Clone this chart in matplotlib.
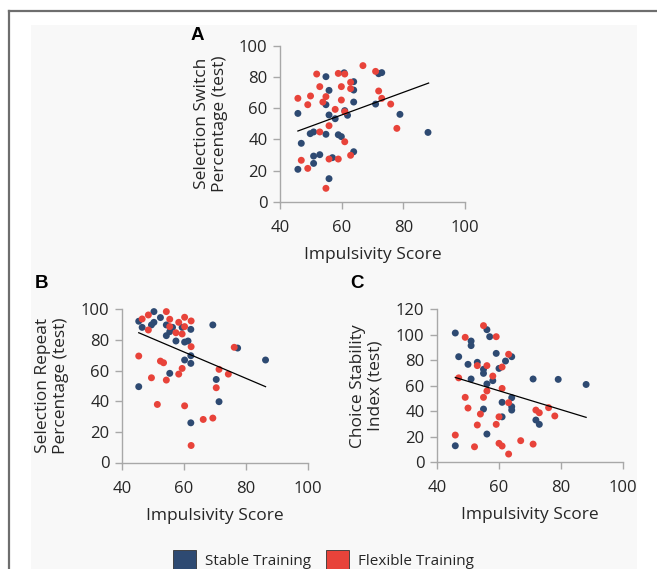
import matplotlib
matplotlib.use("Agg")
import matplotlib.pyplot as plt
from matplotlib.patches import Patch, Rectangle
from matplotlib.lines import Line2D

# ---------------- data ----------------
# Panel A: Selection Switch Percentage (test)
a_stable_x = [45.8, 46.9, 45.8, 49.8, 50.9, 50.9, 50.9, 52.9, 54.9, 54.9, 54.9, 55.9, 55.9, 55.9, 57.0,
              57.9, 58.9, 59.9, 60.8, 61.0, 61.9, 63.9, 63.9, 63.9, 63.9, 71.0, 72.0, 73.0, 78.9, 88.0]
a_stable_y = [56.7, 37.5, 20.8, 43.7, 44.8, 29.3, 24.6, 30.2, 80.3, 62.3, 43.3, 71.5, 55.7, 14.8, 28.3,
              53.3, 43.0, 41.8, 82.8, 58.5, 55.5, 77.1, 71.7, 64.0, 32.1, 62.7, 82.2, 82.9, 56.1, 44.5]
a_flex_x = [45.8, 46.9, 49.0, 49.0, 49.9, 51.9, 52.9, 52.9, 53.9, 54.9, 54.9, 55.9, 55.9, 57.9, 58.9,
            58.9, 59.9, 59.9, 61.0, 61.0, 61.0, 62.9, 62.9, 62.9, 66.9, 71.0, 72.0, 73.0, 75.9, 77.9]
a_flex_y = [66.4, 26.6, 62.3, 21.4, 67.9, 82.0, 73.9, 44.8, 64.0, 67.5, 8.6, 48.8, 27.4, 59.3, 82.4,
            27.4, 73.9, 65.3, 57.8, 38.5, 82.0, 76.7, 72.6, 29.8, 87.4, 83.7, 71.1, 66.4, 62.7, 47.1]
a_trend_x = [45.8, 88.2]
a_trend_y = [45.4, 76.2]

# Panel B: Selection Repeat Percentage (test)
b_stable_x = [45.4, 46.5, 45.4, 49.5, 50.3, 50.3, 52.4, 54.3, 54.3, 55.4, 56.3, 55.4, 57.4, 59.4,
              60.2, 61.3, 60.2, 62.2, 62.2, 62.2, 62.2, 69.3, 70.4, 71.3, 77.3, 86.3]
b_stable_y = [92.2, 88.2, 49.5, 89.8, 91.5, 98.5, 94.6, 89.8, 82.8, 85.4, 88.2, 58.2, 79.3, 88.2,
              78.6, 79.3, 66.9, 69.7, 64.7, 86.9, 25.9, 89.8, 54.2, 39.7, 74.7, 66.9]
b_flex_x = [46.5, 48.5, 48.5, 45.4, 49.5, 51.4, 52.4, 53.4, 54.3, 54.3, 55.4, 55.4, 57.4, 58.3, 59.4,
            60.2, 60.2, 62.3, 62.3, 59.4, 58.3, 60.2, 62.3, 66.2, 69.3, 70.4, 71.3, 74.3, 76.2]
b_flex_y = [93.7, 96.3, 86.5, 69.5, 55.3, 37.9, 66.2, 65.1, 53.8, 98.5, 93.5, 88.7, 84.7, 91.5, 83.9,
            94.8, 88.7, 92.4, 75.6, 61.4, 57.7, 37.0, 11.1, 28.1, 29.0, 48.8, 60.8, 57.7, 75.2]
b_trend_x = [45.4, 86.3]
b_trend_y = [84.7, 49.5]

# Panel C: Choice Stability Index (test)
c_stable_x = [45.9, 47.0, 45.9, 50.0, 51.0, 51.0, 51.0, 53.0, 55.0, 55.0, 56.1, 57.0, 56.1, 55.0, 56.1,
              58.0, 59.1, 60.0, 62.1, 64.1, 61.0, 64.1, 64.1, 64.1, 61.0, 71.0, 71.9, 73.0, 79.1, 88.1]
c_stable_y = [101.4, 82.8, 12.9, 76.8, 95.1, 91.5, 65.3, 78.4, 72.9, 69.7, 104.0, 98.5, 61.4, 41.7, 22.1,
              64.0, 85.4, 73.6, 79.4, 82.8, 47.0, 50.6, 43.6, 40.9, 35.6, 65.3, 33.1, 29.7, 65.0, 61.0]
c_flex_x = [45.9, 47.0, 49.1, 49.1, 50.0, 52.1, 53.0, 53.0, 54.0, 55.0, 55.0, 56.1, 56.1, 58.0, 59.1,
            59.1, 60.0, 60.0, 61.0, 61.0, 61.0, 63.1, 63.1, 63.1, 67.0, 71.0, 71.9, 73.0, 76.0, 78.0]
c_flex_y = [21.3, 66.2, 98.0, 50.9, 42.5, 12.1, 75.8, 29.2, 37.8, 107.2, 50.9, 75.8, 55.9, 67.6, 98.5,
            29.7, 35.6, 14.8, 74.7, 57.9, 12.7, 46.7, 84.7, 6.4, 16.9, 14.2, 40.9, 38.8, 42.8, 36.3]
c_trend_x = [45.9, 88.1]
c_trend_y = [66.5, 35.2]

x_ticks = [40, 60, 80, 100]
a_yticks = [0, 20, 40, 60, 80, 100]
b_yticks = [0, 20, 40, 60, 80, 100]
c_yticks = [0, 20, 40, 60, 80, 100, 120]

panel_letters = ["A", "B", "C"]
y_labels = ["Selection Switch\nPercentage (test)",
            "Selection Repeat\nPercentage (test)",
            "Choice Stability\nIndex (test)"]
x_label = "Impulsivity Score"
legend_labels = ["Stable Training", "Flexible Training"]

# ---------------- style ----------------
BLUE = "#2e4a72"
RED = "#e8433a"
TEXT = "#262626"
SPINE = "#a8a8a8"
FONT = ["Open Sans", "DejaVu Sans"]
plt.rcParams["font.family"] = FONT

W, H = 657, 569
fig = plt.figure(figsize=(W / 100, H / 100), dpi=100)
fig.patch.set_facecolor("white")

# light gray panel + outer frame
fig.patches.append(Rectangle((31 / W, 0), (637 - 31) / W, 1 - 25 / H, transform=fig.transFigure,
                             facecolor="#f8f8f8", edgecolor="none", zorder=-5))
fig.lines.append(Line2D([9 / W, 1.0], [1 - 11 / H, 1 - 11 / H], transform=fig.transFigure,
                        color="#6e6e6e", lw=1.6, zorder=-4))
fig.lines.append(Line2D([9 / W, 9 / W], [0, 1 - 11 / H], transform=fig.transFigure,
                        color="#6e6e6e", lw=1.6, zorder=-4))


def px_axes(x0, x1, ytop, ybot):
    return fig.add_axes([x0 / W, 1 - ybot / H, (x1 - x0) / W, (ybot - ytop) / H])


panels = [
    (px_axes(280, 465, 46, 201.7), a_stable_x, a_stable_y, a_flex_x, a_flex_y, a_trend_x, a_trend_y,
     a_yticks, 211, (197, 36)),
    (px_axes(122, 308, 309.3, 462.5), b_stable_x, b_stable_y, b_flex_x, b_flex_y, b_trend_x, b_trend_y,
     b_yticks, 52, (42, 283)),
    (px_axes(437, 623, 309.3, 462.2), c_stable_x, c_stable_y, c_flex_x, c_flex_y, c_trend_x, c_trend_y,
     c_yticks, 367, (357, 283)),
]

for i, (ax, sx, sy, fx, fy, tx, ty, yt, ylab_x, letter_xy) in enumerate(panels):
    ax.set_facecolor("none")
    ax.scatter(sx, sy, s=25, color=BLUE, edgecolors="none", zorder=3, clip_on=False)
    ax.scatter(fx, fy, s=25, color=RED, edgecolors="none", zorder=3, clip_on=False)
    ax.plot(tx, ty, color="black", lw=0.9, zorder=4)
    ax.set_xlim(40, 100)
    ax.set_ylim(yt[0], yt[-1])
    ax.set_xticks(x_ticks)
    ax.set_yticks(yt)
    for s in ["top", "right"]:
        ax.spines[s].set_visible(False)
    for s in ["left", "bottom"]:
        ax.spines[s].set_color(SPINE)
        ax.spines[s].set_linewidth(1.0)
    ax.tick_params(axis="both", colors=SPINE, labelcolor=TEXT, labelsize=12, length=5, width=1.0,
                   direction="out")
    ax.tick_params(axis="x", pad=8)
    ax.tick_params(axis="y", pad=4)
    ax.set_xlabel(x_label, fontsize=12.5, color=TEXT, labelpad=8)
    ax.set_ylabel(y_labels[i], fontsize=12.5, color=TEXT, va="center", linespacing=1.15)
    bb = ax.get_position()
    ax.yaxis.set_label_coords((ylab_x / W - bb.x0) / bb.width, 0.5)
    fig.text(letter_xy[0] / W, 1 - letter_xy[1] / H, panel_letters[i], fontsize=13.5,
             fontweight="bold", family=["Liberation Sans", "DejaVu Sans"], ha="center", va="center",
             color="black")

handles = [Patch(facecolor=BLUE, edgecolor="#333333", lw=0.6),
           Patch(facecolor=RED, edgecolor="#333333", lw=0.6)]
fig.legend(handles, legend_labels, loc="center", bbox_to_anchor=(323.5 / W, 1 - 559.5 / H),
           ncol=2, frameon=False, fontsize=11, handlelength=1.5, handleheight=1.5,
           handletextpad=0.6, columnspacing=1.0, labelcolor=TEXT, borderpad=0)

fig.savefig("out.png", dpi=100)
